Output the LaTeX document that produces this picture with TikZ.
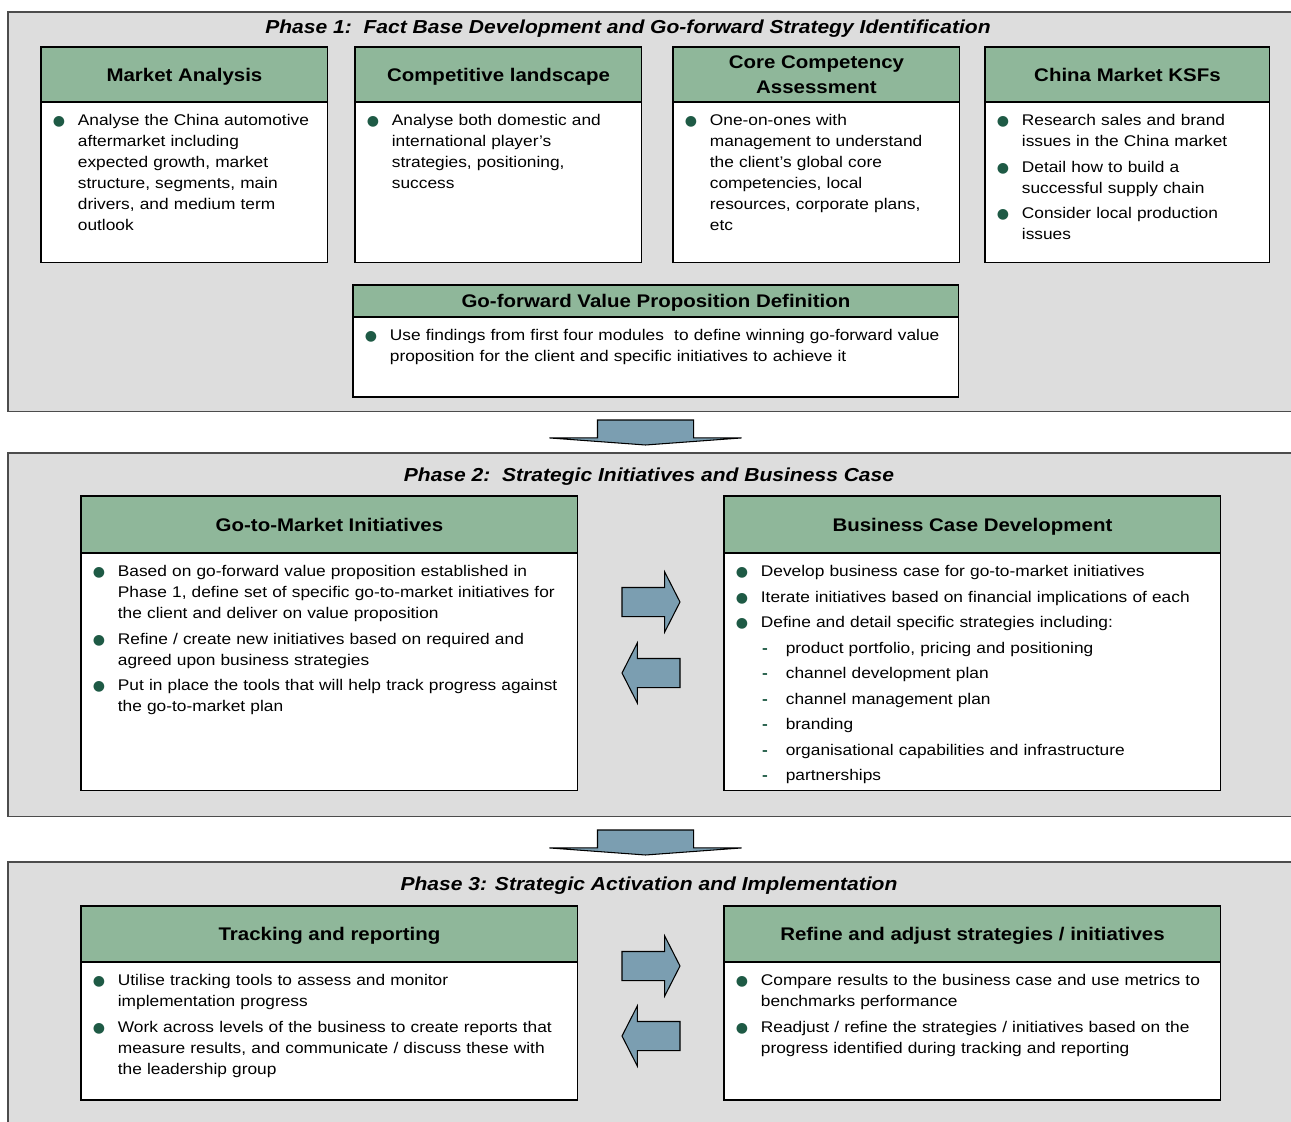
\documentclass[tikz,border=0pt]{standalone}
\usepackage{fontspec}
\setmainfont{Liberation Sans}[FakeStretch=1.12]
\newfontfamily\symfont{DejaVu Sans}
\usepackage{enumitem}
\usetikzlibrary{positioning,shapes.arrows}

\definecolor{panelgray}{HTML}{DDDDDD}
\definecolor{hdrgreen}{HTML}{8FB79A}
\definecolor{dotgreen}{HTML}{1E5A45}
\definecolor{arrowblue}{HTML}{7B9EB1}

\newcommand{\dotlabel}{\makebox[0pt]{\textcolor{dotgreen}{\symfont\fontsize{8}{8}\selectfont ●}}}
\newcommand{\dashlabel}{\makebox[0pt]{\textcolor{dotgreen}{\bfseries -}}}
\setlist[itemize,1]{label=\dotlabel, leftmargin=21pt, labelwidth=0pt, labelsep=10.8pt, itemsep=2.6pt, parsep=0pt, topsep=0pt, partopsep=0pt}
\setlist[itemize,2]{label=\dashlabel, leftmargin=14.2pt, labelwidth=0pt, labelsep=11.9pt, itemsep=2.6pt, parsep=0pt, topsep=2.6pt, partopsep=0pt}

\newcommand{\bodyfont}{\fontsize{8.8}{11.9}\selectfont}
\newcommand{\hdrfont}{\fontsize{10.4}{14.2}\selectfont\bfseries}
\newcommand{\titlefont}{\fontsize{10.7}{13}\selectfont\bfseries\itshape}

\begin{document}
\begin{tikzpicture}[x=0.02cm, y=-0.02cm,
    panel/.style={draw=black!70, fill=panelgray, line width=0.6pt, inner sep=0pt, outer sep=0pt, anchor=north west},
    ptitle/.style={font=\titlefont, inner sep=0pt},
    hdr/.style={draw=black, fill=hdrgreen, line width=0.6pt, inner sep=0pt, outer sep=0pt, align=center, text depth=0pt, font=\hdrfont},
    frame/.style={draw=black, fill=white, line width=0.6pt, inner sep=0pt, outer sep=0pt},
    btext/.style={anchor=north west, inner xsep=0pt, inner ysep=1.7pt, outer sep=0pt, align=left, font=\bodyfont},
    blockarrow/.style={single arrow, draw=black, fill=arrowblue, line width=0.6pt, outer sep=0pt, single arrow head indent=0pt},
    sidearrow/.style={blockarrow, inner xsep=0pt, inner ysep=0.28cm, minimum height=1.16cm, single arrow head extend=0.31cm, single arrow tip angle=126},
    downarrow/.style={blockarrow, shape border rotate=270, inner xsep=0.95cm, inner ysep=0pt, minimum height=0.5cm, single arrow head extend=0.96cm, single arrow tip angle=171.6}]
  \useasboundingbox (0,0) rectangle (1291,1122);

  % phase panels
  \node[panel, minimum width=25.84cm, minimum height=8cm] (p1) at (8,12) {};
  \node[panel, minimum width=25.84cm, minimum height=7.28cm] (p2) at (8,453) {};
  \node[panel, minimum width=25.84cm, minimum height=5.36cm] (p3) at (8,862) {};

  \node[ptitle] (p1-t) at (628,29) {Phase 1:\ \ Fact Base Development and Go-forward Strategy Identification};
  \node[ptitle] (p2-t) at (649,477) {Phase 2:\ \ Strategic Initiatives and Business Case};
  \node[ptitle] (p3-t) at (649,886) {Phase 3: Strategic Activation and Implementation};

  % phase 1 modules
  \node[hdr, minimum width=5.74cm, minimum height=1.10cm, anchor=north west] (ma-h) at (41,47) {Market Analysis};
  \node[frame, minimum width=5.74cm, minimum height=3.22cm, below=0pt of ma-h] (ma-f) {};
  \node[btext, text width=5.6cm] (ma-t) at (ma-f.north west) {\begin{itemize}
    \item Analyse the China automotive\\ aftermarket including\\ expected growth, market\\ structure, segments, main\\ drivers, and medium term\\ outlook
  \end{itemize}};

  \node[hdr, minimum width=5.74cm, minimum height=1.10cm, anchor=north west] (cl-h) at (355,47) {Competitive landscape};
  \node[frame, minimum width=5.74cm, minimum height=3.22cm, below=0pt of cl-h] (cl-f) {};
  \node[btext, text width=5.6cm] (cl-t) at (cl-f.north west) {\begin{itemize}
    \item Analyse both domestic and\\ international player’s\\ strategies, positioning,\\ success
  \end{itemize}};

  \node[hdr, minimum width=5.74cm, minimum height=1.10cm, anchor=north west] (cc-h) at (673,47) {Core Competency\\ Assessment};
  \node[frame, minimum width=5.74cm, minimum height=3.22cm, below=0pt of cc-h] (cc-f) {};
  \node[btext, text width=5.6cm] (cc-t) at (cc-f.north west) {\begin{itemize}
    \item One-on-ones with\\ management to understand\\ the client’s global core\\ competencies, local\\ resources, corporate plans,\\ etc
  \end{itemize}};

  \node[hdr, minimum width=5.70cm, minimum height=1.10cm, anchor=north west] (ksf-h) at (985,47) {China Market KSFs};
  \node[frame, minimum width=5.70cm, minimum height=3.22cm, below=0pt of ksf-h] (ksf-f) {};
  \node[btext, text width=5.6cm] (ksf-t) at (ksf-f.north west) {\begin{itemize}
    \item Research sales and brand\\ issues in the China market
    \item Detail how to build a\\ successful supply chain
    \item Consider local production\\ issues
  \end{itemize}};

  \node[hdr, minimum width=12.12cm, minimum height=0.64cm, anchor=north west] (gf-h) at (353,285) {Go-forward Value Proposition Definition};
  \node[frame, minimum width=12.12cm, minimum height=1.60cm, below=0pt of gf-h] (gf-f) {};
  \node[btext, text width=12cm] (gf-t) at (gf-f.north west) {\begin{itemize}
    \item Use findings from first four modules\ \ to define winning go-forward value\\ proposition for the client and specific initiatives to achieve it
  \end{itemize}};

  \node[downarrow, anchor=tail] (d1) at (645.5,420) {};

  % phase 2 modules
  \node[hdr, minimum width=9.94cm, minimum height=1.14cm, anchor=north west] (gtm-h) at (81,496) {Go-to-Market Initiatives};
  \node[frame, minimum width=9.94cm, minimum height=4.76cm, below=0pt of gtm-h] (gtm-f) {};
  \node[btext, text width=9.8cm] (gtm-t) at (gtm-f.north west) {\begin{itemize}
    \item Based on go-forward value proposition established in\\ Phase 1, define set of specific go-to-market initiatives for\\ the client and deliver on value proposition
    \item Refine / create new initiatives based on required and\\ agreed upon business strategies
    \item Put in place the tools that will help track progress against\\ the go-to-market plan
  \end{itemize}};

  \node[hdr, minimum width=9.94cm, minimum height=1.14cm, anchor=north west] (bc-h) at (724,496) {Business Case Development};
  \node[frame, minimum width=9.94cm, minimum height=4.76cm, below=0pt of bc-h] (bc-f) {};
  \node[btext, text width=9.8cm] (bc-t) at (bc-f.north west) {\begin{itemize}
    \item Develop business case for go-to-market initiatives
    \item Iterate initiatives based on financial implications of each
    \item Define and detail specific strategies including:
    \begin{itemize}
      \item product portfolio, pricing and positioning
      \item channel development plan
      \item channel management plan
      \item branding
      \item organisational capabilities and infrastructure
      \item partnerships
    \end{itemize}
  \end{itemize}};

  \node[sidearrow, anchor=tail] (r2) at (622,602) {};
  \node[sidearrow, shape border rotate=180, anchor=tail] (l2) at (680,673) {};

  \node[downarrow, anchor=tail] (d2) at (645.5,830) {};

  % phase 3 modules
  \node[hdr, minimum width=9.94cm, minimum height=1.12cm, anchor=north west] (tr-h) at (81,906) {Tracking and reporting};
  \node[frame, minimum width=9.94cm, minimum height=2.76cm, below=0pt of tr-h] (tr-f) {};
  \node[btext, text width=9.8cm] (tr-t) at (tr-f.north west) {\begin{itemize}
    \item Utilise tracking tools to assess and monitor\\ implementation progress
    \item Work across levels of the business to create reports that\\ measure results, and communicate / discuss these with\\ the leadership group
  \end{itemize}};

  \node[hdr, minimum width=9.94cm, minimum height=1.12cm, anchor=north west] (ra-h) at (724,906) {Refine and adjust strategies / initiatives};
  \node[frame, minimum width=9.94cm, minimum height=2.76cm, below=0pt of ra-h] (ra-f) {};
  \node[btext, text width=9.8cm] (ra-t) at (ra-f.north west) {\begin{itemize}
    \item Compare results to the business case and use metrics to\\ benchmarks performance
    \item Readjust / refine the strategies / initiatives based on the\\ progress identified during tracking and reporting
  \end{itemize}};

  \node[sidearrow, anchor=tail] (r3) at (622,966) {};
  \node[sidearrow, shape border rotate=180, anchor=tail] (l3) at (680,1036) {};
\end{tikzpicture}
\end{document}
